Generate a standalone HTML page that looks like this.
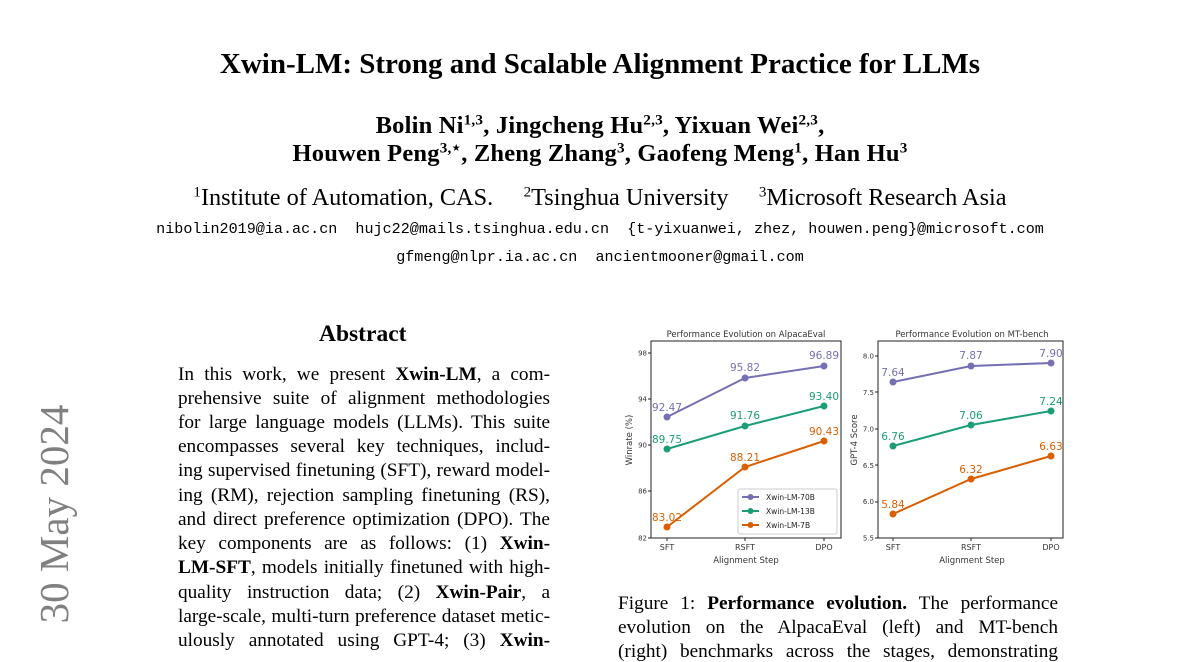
<!DOCTYPE html>
<html><head><meta charset="utf-8"><style>
body{margin:0;width:1200px;height:648px;overflow:hidden;background:#fff;position:relative;font-family:"Liberation Serif",serif;color:#000}
.a{position:absolute;white-space:nowrap}
.c{position:absolute;left:0;width:1200px;text-align:center;white-space:nowrap}
.m{font-family:"Liberation Mono",monospace;font-size:15.1px}
.l{position:absolute;left:178px;width:372px;font-size:19.3px;text-align:justify;text-align-last:justify;white-space:nowrap;line-height:20px}
.r{position:absolute;left:618px;width:440px;font-size:19.3px;text-align:justify;text-align-last:justify;white-space:nowrap;line-height:20px}
sup{font-size:0.62em;vertical-align:0.55em;line-height:0}
svg text{font-family:"DejaVu Sans",sans-serif}
</style></head><body>
<div class="c" style="top:48px;font-size:29px;font-weight:bold">Xwin-LM: Strong and Scalable Alignment Practice for LLMs</div>
<div class="c" style="top:112px;font-size:24.5px;font-weight:bold;letter-spacing:0.2px">Bolin Ni<sup>1,3</sup>, Jingcheng Hu<sup>2,3</sup>, Yixuan Wei<sup>2,3</sup>,</div>
<div class="c" style="top:140px;font-size:24.5px;font-weight:bold;letter-spacing:0.2px">Houwen Peng<sup>3,⋆</sup>, Zheng Zhang<sup>3</sup>, Gaofeng Meng<sup>1</sup>, Han Hu<sup>3</sup></div>
<div class="c" style="top:184px;font-size:24.3px"><sup>1</sup>Institute of Automation, CAS. &nbsp;&nbsp;&nbsp;&nbsp;<sup>2</sup>Tsinghua University &nbsp;&nbsp;&nbsp;&nbsp;<sup>3</sup>Microsoft Research Asia</div>
<div class="c m" style="top:220px">nibolin2019@ia.ac.cn &nbsp;hujc22@mails.tsinghua.edu.cn &nbsp;{t-yixuanwei, zhez, houwen.peng}@microsoft.com</div>
<div class="c m" style="top:248px">gfmeng@nlpr.ia.ac.cn &nbsp;ancientmooner@gmail.com</div>
<div class="a" style="left:319px;top:321px;font-size:23.5px;font-weight:bold">Abstract</div>
<div class="a" style="left:32px;top:492px;width:44px;height:44px"><div style="position:absolute;left:22px;top:22px;transform:translate(-50%,-50%) rotate(-90deg);font-size:41px;color:#808080;white-space:nowrap">30 May 2024</div></div>
<div class="l" style="top:365px">In this work, we present <b>Xwin-LM</b>, a com-</div>
<div class="l" style="top:389px">prehensive suite of alignment methodologies</div>
<div class="l" style="top:413px">for large language models (LLMs). This suite</div>
<div class="l" style="top:437px">encompasses several key techniques, includ-</div>
<div class="l" style="top:461px">ing supervised finetuning (SFT), reward model-</div>
<div class="l" style="top:486px">ing (RM), rejection sampling finetuning (RS),</div>
<div class="l" style="top:510px">and direct preference optimization (DPO). The</div>
<div class="l" style="top:534px">key components are as follows: (1) <b>Xwin-</b></div>
<div class="l" style="top:558px"><b>LM-SFT</b>, models initially finetuned with high-</div>
<div class="l" style="top:583px">quality instruction data; (2) <b>Xwin-Pair</b>, a</div>
<div class="l" style="top:607px">large-scale, multi-turn preference dataset metic-</div>
<div class="l" style="top:631px">ulously annotated using GPT-4; (3) <b>Xwin-</b></div>
<div class="r" style="top:594px">Figure 1: <b>Performance evolution.</b> The performance</div>
<div class="r" style="top:618px">evolution on the AlpacaEval (left) and MT-bench</div>
<div class="r" style="top:642px">(right) benchmarks across the stages, demonstrating</div>
<svg class="a" style="left:0;top:0" width="1200" height="648" font-size="8.5">
<g fill="#333" text-anchor="middle">
<text x="746" y="337" font-size="8.5">Performance Evolution on AlpacaEval</text>
<text x="972" y="337" font-size="8.5">Performance Evolution on MT-bench</text>
<text x="746" y="563">Alignment Step</text>
<text x="972" y="563">Alignment Step</text>
<text transform="translate(632,440) rotate(-90)">Winrate (%)</text>
<text transform="translate(857,440) rotate(-90)">GPT-4 Score</text>
</g>
<rect x="651" y="341" width="190" height="197" fill="none" stroke="#222" stroke-width="1"/>
<rect x="878" y="341" width="185" height="197" fill="none" stroke="#222" stroke-width="1"/>
<g fill="#333" font-size="7" text-anchor="end">
<text x="647" y="355.5">98</text><text x="647" y="401.5">94</text><text x="647" y="447.5">90</text><text x="647" y="493.5">86</text><text x="647" y="540.5">82</text>
<text x="874" y="358.5">8.0</text><text x="874" y="395">7.5</text><text x="874" y="431.5">7.0</text><text x="874" y="468">6.5</text><text x="874" y="504">6.0</text><text x="874" y="540.5">5.5</text>
</g>
<g fill="#333" font-size="8" text-anchor="middle">
<text x="667" y="550">SFT</text><text x="745" y="550">RSFT</text><text x="824" y="550">DPO</text>
<text x="893" y="550">SFT</text><text x="971" y="550">RSFT</text><text x="1051" y="550">DPO</text>
</g>
<g stroke="#222"><path d="M667 538v3M745 538v3M824 538v3M893 538v3M971 538v3M1051 538v3M651 353h-3M651 399h-3M651 445h-3M651 491h-3M651 538h-3M878 356h-3M878 392h-3M878 429h-3M878 465h-3M878 502h-3M878 538h-3"/></g>
<g stroke-width="2" fill="none">
<polyline points="667,417 745,378 824,366" stroke="#7570b3"/>
<polyline points="667,449 745,426 824,406" stroke="#1b9e77"/>
<polyline points="667,527 745,467 824,441" stroke="#d95f02"/>
<polyline points="893,382 971,366 1051,363" stroke="#7570b3"/>
<polyline points="893,446 971,425 1051,411" stroke="#1b9e77"/>
<polyline points="893,514 971,479 1051,456" stroke="#d95f02"/>
</g>
<g fill="#7570b3"><circle cx="667" cy="417" r="3.5"/><circle cx="745" cy="378" r="3.5"/><circle cx="824" cy="366" r="3.5"/><circle cx="893" cy="382" r="3.5"/><circle cx="971" cy="366" r="3.5"/><circle cx="1051" cy="363" r="3.5"/></g>
<g fill="#1b9e77"><circle cx="667" cy="449" r="3.5"/><circle cx="745" cy="426" r="3.5"/><circle cx="824" cy="406" r="3.5"/><circle cx="893" cy="446" r="3.5"/><circle cx="971" cy="425" r="3.5"/><circle cx="1051" cy="411" r="3.5"/></g>
<g fill="#d95f02"><circle cx="667" cy="527" r="3.5"/><circle cx="745" cy="467" r="3.5"/><circle cx="824" cy="441" r="3.5"/><circle cx="893" cy="514" r="3.5"/><circle cx="971" cy="479" r="3.5"/><circle cx="1051" cy="456" r="3.5"/></g>
<g font-size="10.5" text-anchor="middle">
<g fill="#7570b3"><text x="667" y="411">92.47</text><text x="745" y="371">95.82</text><text x="824" y="359">96.89</text><text x="893" y="376">7.64</text><text x="971" y="359">7.87</text><text x="1051" y="357">7.90</text></g>
<g fill="#1b9e77"><text x="667" y="443">89.75</text><text x="745" y="419">91.76</text><text x="824" y="400">93.40</text><text x="893" y="440">6.76</text><text x="971" y="419">7.06</text><text x="1051" y="405">7.24</text></g>
<g fill="#d95f02"><text x="667" y="521">83.02</text><text x="745" y="461">88.21</text><text x="824" y="435">90.43</text><text x="893" y="508">5.84</text><text x="971" y="473">6.32</text><text x="1051" y="450">6.63</text></g>
</g>
<rect x="738" y="489" width="99" height="45" rx="2" fill="#fff" stroke="#ccc"/>
<g stroke-width="2"><path d="M742 497h17" stroke="#7570b3"/><path d="M742 511h17" stroke="#1b9e77"/><path d="M742 525h17" stroke="#d95f02"/></g>
<circle cx="750.5" cy="497" r="3" fill="#7570b3"/><circle cx="750.5" cy="511" r="3" fill="#1b9e77"/><circle cx="750.5" cy="525" r="3" fill="#d95f02"/>
<g fill="#222" font-size="7.5"><text x="766" y="500">Xwin-LM-70B</text><text x="766" y="514">Xwin-LM-13B</text><text x="766" y="528">Xwin-LM-7B</text></g>
</svg>
</body></html>
